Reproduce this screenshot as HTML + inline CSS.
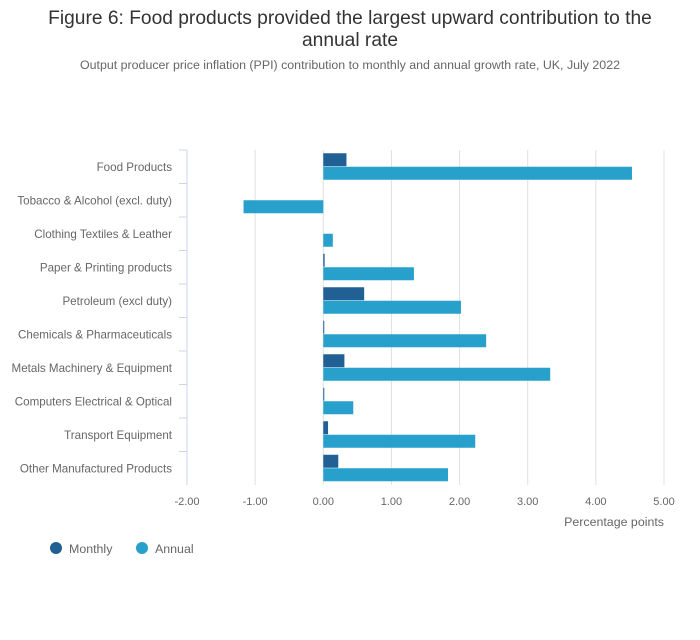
<!DOCTYPE html>
<html><head><meta charset="utf-8"><style>
body{margin:0;background:#fff;font-family:"Liberation Sans",sans-serif;}
svg text{font-family:"Liberation Sans",sans-serif;}
</style></head><body>
<svg width="700" height="635" xmlns="http://www.w3.org/2000/svg">
<text x="350" y="24" text-anchor="middle" font-size="19.2" fill="#333">Figure 6: Food products provided the largest upward contribution to the</text>
<text x="350" y="46" text-anchor="middle" font-size="19.2" fill="#333">annual rate</text>
<text x="350" y="69" text-anchor="middle" font-size="12.4" fill="#666">Output producer price inflation (PPI) contribution to monthly and annual growth rate, UK, July 2022</text>
<g id="grid"></g><g id="bars"></g><g id="labels"></g>
<text x="664" y="526" text-anchor="end" font-size="12.4" fill="#666">Percentage points</text>
<g>
<circle cx="56" cy="548" r="6" fill="#206095"/>
<text x="69" y="553" font-size="12.4" fill="#666">Monthly</text>
<circle cx="142" cy="548" r="6" fill="#27a0cc"/>
<text x="155" y="553" font-size="12.4" fill="#666">Annual</text>
</g>
</svg>
<script>
const categories=["Food Products","Tobacco & Alcohol (excl. duty)","Clothing Textiles & Leather","Paper & Printing products","Petroleum (excl duty)","Chemicals & Pharmaceuticals","Metals Machinery & Equipment","Computers Electrical & Optical","Transport Equipment","Other Manufactured Products"];
const monthly=[0.34,0.0,0.0,0.02,0.6,0.01,0.31,0.01,0.07,0.22];
const annual=[4.53,-1.17,0.14,1.33,2.02,2.39,3.33,0.44,2.23,1.83];
const ticks=[-2,-1,0,1,2,3,4,5];
const tickLabels=["-2.00","-1.00","0.00","1.00","2.00","3.00","4.00","5.00"];
const NS="http://www.w3.org/2000/svg";
const x0=187,x1=664,vmin=-2,vmax=5,plotTop=150,plotBottom=485;
const xs=v=>x0+(v-vmin)/(vmax-vmin)*(x1-x0);
const band=(plotBottom-plotTop)/categories.length;
function mk(t,a,p){const e=document.createElementNS(NS,t);for(const k in a)e.setAttribute(k,a[k]);document.getElementById(p).appendChild(e);return e;}
ticks.forEach((t,i)=>{
 if(i>0){const l=mk('line',{x1:xs(t),x2:xs(t),y1:plotTop,y2:plotBottom,stroke:'#e0e0e0'},'grid');
 
 }
 const tx=mk('text',{x:xs(t),y:505,'text-anchor':'middle','font-size':11,fill:'#666'},'labels');
 tx.textContent=tickLabels[i];
 
 
});
const ax=mk('line',{x1:x0,x2:x0,y1:plotTop,y2:plotBottom,stroke:'#ccd6eb'},'grid');


categories.forEach((c,i)=>{
 const yc=plotTop+band*i+band/2;
 const tk=mk('line',{x1:x0-8,x2:x0,y1:plotTop+band*i,y2:plotTop+band*i,stroke:'#ccd6eb'},'grid');
 
 
 const tx=mk('text',{x:172,y:yc+4,'text-anchor':'end','font-size':11.6,fill:'#666'},'labels');
 tx.textContent=c;
 
 
 const m=monthly[i],a=annual[i];
 const bm=mk('rect',{x:Math.min(xs(0),xs(m)),y:yc-13.5,width:Math.max(Math.abs(xs(m)-xs(0)),m!==0?1:0),height:13,fill:'#206095'},'bars');
 
 
 const ba=mk('rect',{x:Math.min(xs(0),xs(a)),y:yc,width:Math.abs(xs(a)-xs(0)),height:13,fill:'#27a0cc'},'bars');
 
 
});
</script>
</body></html>
